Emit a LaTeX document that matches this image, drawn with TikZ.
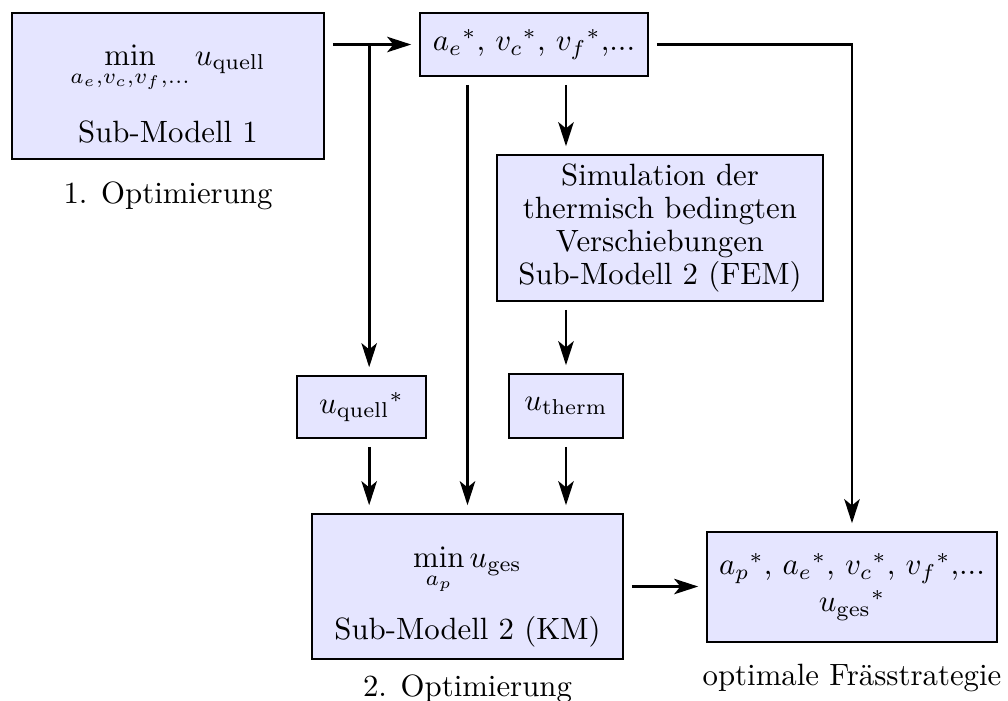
\documentclass[tikz,border=0pt]{standalone}
\usepackage{amsmath}
\usetikzlibrary{arrows.meta,calc,positioning}
\newcommand\pxu{0.3247pt}
\tikzset{
  box/.style={draw, line width=0.5pt, fill=blue!10, align=center, inner sep=0pt},
  arr/.style={-{Stealth[length=7.8pt,width=5pt,inset=2pt]}, line width=0.9pt, shorten <=2.6pt, shorten >=2.6pt},
  arrj/.style={-{Stealth[length=7.8pt,width=5pt,inset=2pt]}, line width=0.9pt, shorten >=2.6pt},
  lbl/.style={inner sep=3.33pt}
}
\begin{document}
\begin{tikzpicture}[x=\pxu, y=-\pxu]
\useasboundingbox (0,0) rectangle (1008,700);
\node[box, minimum width=312*\pxu, minimum height=146*\pxu] (sm1) at (168,86)
  {\rule{0pt}{11.8pt}$\displaystyle\min_{a_e,v_c,v_f,\ldots} u_{\mathrm{quell}}$\\[8pt] Sub-Modell 1};
\node[box, minimum width=228*\pxu, minimum height=63*\pxu] (ae) at (534,44.5)
  {${a_e}^*$, ${v_c}^*$, ${v_f}^*$,...};
\node[box, minimum width=326*\pxu, minimum height=146*\pxu] (sim) at (660,228)
  {Simulation der\\[-1.3pt]thermisch bedingten\\[-1.3pt]Verschiebungen\\[-1.3pt]Sub-Modell 2 (FEM)};
\node[box, minimum width=129*\pxu, minimum height=62*\pxu] (uq) at (361.5,407)
  {${u_{\mathrm{quell}}}^*$};
\node[box, minimum width=114*\pxu, minimum height=64*\pxu] (ut) at (566,406)
  {$u_{\mathrm{therm}}$};
\node[box, minimum width=311*\pxu, minimum height=145*\pxu] (km) at (467.5,586.5)
  {\rule{0pt}{13.4pt}$\displaystyle\min_{a_p} u_{\mathrm{ges}}$\\[6pt] Sub-Modell 2 (KM)};
\node[box, minimum width=290*\pxu, minimum height=110*\pxu] (opt) at (852,587)
  {${a_p}^*$, ${a_e}^*$, ${v_c}^*$, ${v_f}^*$,...\\${u_{\mathrm{ges}}}^*$};
\node[lbl, below=3.5pt of sm1] (l1) {1. Optimierung};
\node[lbl, below=1.5pt of km] (l2) {2. Optimierung};
\node[lbl, below=3.5pt of opt] (l3) {optimale Frässtrategie};

\coordinate (m) at ($(sm1.east |- ae.west)!0.47!(ae.west)$);
\draw[arr] (sm1.east |- ae.west) -- (ae.west);
\draw[arrj] (m) -- (m |- uq.north);
\draw[arr] (m |- uq.south) -- (m |- km.north);
\draw[arr] (km.north |- ae.south) -- (km.north);
\draw[arr] (ut.north |- ae.south) -- (ut.north |- sim.north);
\draw[arr] (ut.north |- sim.south) -- (ut.north);
\draw[arr] (ut.south) -- (ut.south |- km.north);
\draw[arr] (ae.east) -| (opt.north);
\draw[arr] (km.east) -- (km.east -| opt.west);
\end{tikzpicture}
\end{document}
